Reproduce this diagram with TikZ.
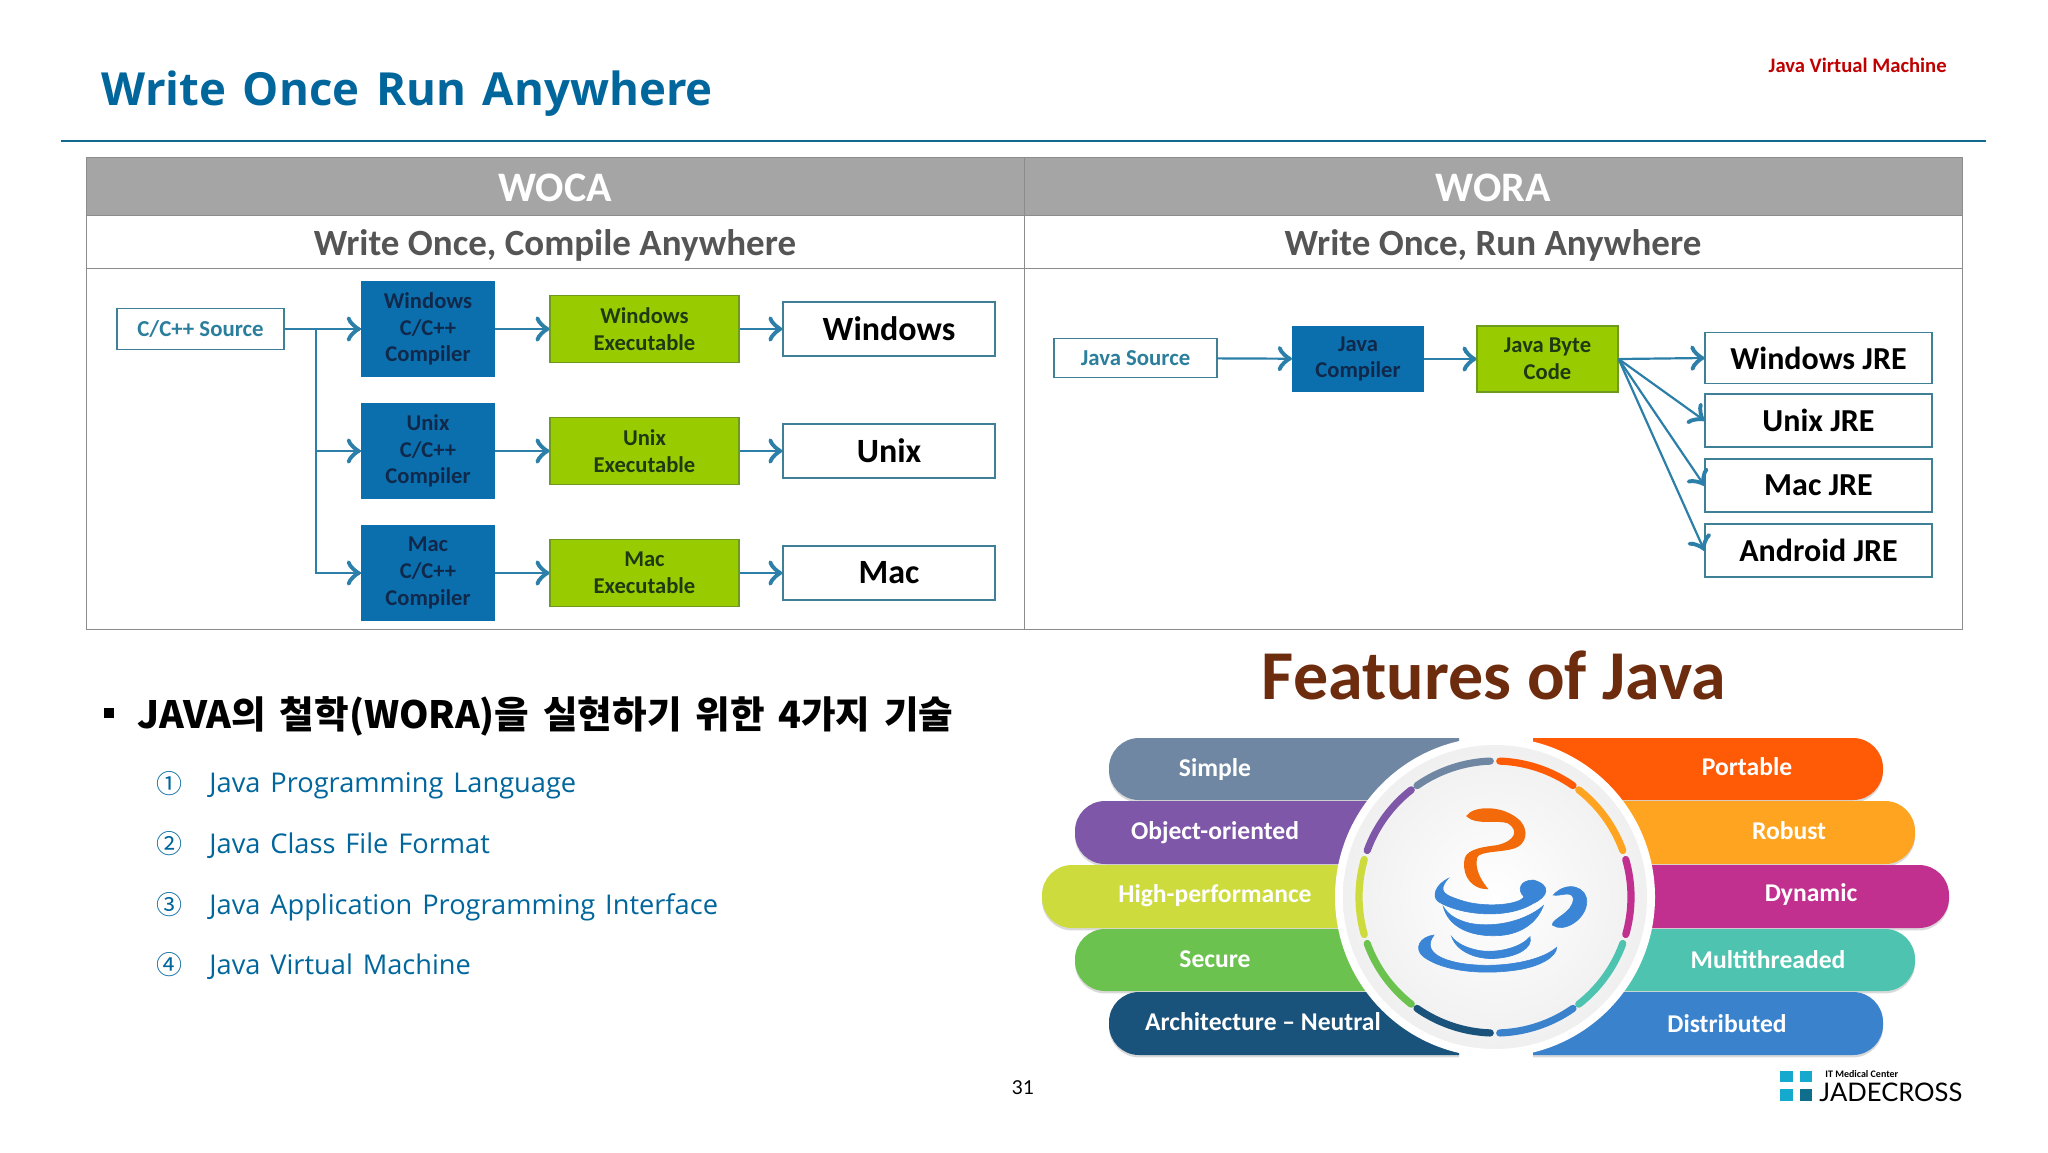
\documentclass[tikz,border=0pt]{standalone}
\usepackage{fontspec}
\setmainfont{Carlito}
\newfontfamily\titlefont[WordSpace=1.5]{Open Sans}
\newfontfamily\itemfont[WordSpace=1.4]{Open Sans}
\newfontfamily\kofont[WordSpace=1.6]{Noto Sans CJK KR}
\newfontfamily\logofont{Lato}
\usetikzlibrary{decorations.markings}
\usetikzlibrary{positioning}
\definecolor{titleblue}{HTML}{00669C}
\definecolor{rulecol}{HTML}{0F6A8E}
\definecolor{headgray}{HTML}{A5A5A5}
\definecolor{linegray}{HTML}{8C8C8C}
\definecolor{subgray}{HTML}{555555}
\definecolor{flowcol}{HTML}{2B7FA8}
\definecolor{boxedge}{HTML}{3F8096}
\definecolor{compfill}{HTML}{0B6FAE}
\definecolor{compink}{HTML}{10294A}
\definecolor{exefill}{HTML}{99CC00}
\definecolor{exeedge}{HTML}{6F9A20}
\definecolor{exeink}{HTML}{1E3A12}
\definecolor{srcink}{HTML}{2B7F9C}
\definecolor{cupblue}{HTML}{3A85D5}
\definecolor{steam}{HTML}{F26A0A}
\definecolor{javabrown}{HTML}{6E2C0E}
\definecolor{simplecol}{HTML}{6F87A3}
\definecolor{objectcol}{HTML}{7E57A8}
\definecolor{highcol}{HTML}{CDDB3D}
\definecolor{securecol}{HTML}{6CC24F}
\definecolor{archcol}{HTML}{19527A}
\definecolor{portcol}{HTML}{FF5A05}
\definecolor{robustcol}{HTML}{FFA421}
\definecolor{dyncol}{HTML}{C2308F}
\definecolor{multicol}{HTML}{4EC4B0}
\definecolor{distcol}{HTML}{3B82CC}
\definecolor{logocyan}{HTML}{16A9CE}
\definecolor{logodark}{HTML}{0E6E8C}
\tikzset{->/.style = {decoration={markings,
                                  mark=at position 1 with {\arrow[scale=2.2]{to}}},
                      postaction={decorate}}}
\tikzset{flow/.style = {draw=flowcol, line width=1.1pt}}
\tikzset{cell/.style = {draw=linegray, line width=0.5pt, inner sep=0, minimum width=469pt}}
\tikzset{headcell/.style = {cell, fill=headgray, text=white, minimum height=29pt, text height=15pt, text depth=0pt, font=\bfseries\fontsize{21}{24}\selectfont}}
\tikzset{subcell/.style = {cell, text=subgray, minimum height=26.5pt, text height=17pt, text depth=3.5pt, font=\bfseries\fontsize{18.5}{20}\selectfont}}
\tikzset{plainbox/.style = {draw=boxedge, fill=white, line width=0.7pt, inner sep=0, align=center}}
\tikzset{srcbox/.style = {plainbox, text=srcink, font=\bfseries\fontsize{11.4}{13}\selectfont}}
\tikzset{osbox/.style = {plainbox, font=\bfseries\fontsize{17}{19}\selectfont}}
\tikzset{jrebox/.style = {plainbox, font=\bfseries\fontsize{16}{18}\selectfont, minimum width=113.5pt}}
\tikzset{compbox/.style = {fill=compfill, inner sep=0, align=center, text=compink, minimum width=67pt, minimum height=48pt, font=\bfseries\fontsize{11.3}{13.3}\selectfont}}
\tikzset{exebox/.style = {draw=exeedge, fill=exefill, line width=0.6pt, inner sep=0, align=center, text=exeink, minimum width=94.5pt, minimum height=33.5pt, font=\bfseries\fontsize{11.3}{13.3}\selectfont}}
\tikzset{itemtext/.style = {anchor=west, inner sep=0, text=titleblue, font=\itemfont\fontsize{13.6}{15}\selectfont}}
\tikzset{itemnum/.style = {inner sep=0, text=titleblue, font=\kofont\fontsize{13}{15}\selectfont}}
\tikzset{bandtext/.style = {inner sep=0, text=white, font=\bfseries\fontsize{12.8}{14}\selectfont}}
\tikzset{seg/.style = {line width=3.6pt, line cap=round}}
\newcommand{\bandshape}[5]{%
  \fill [black, opacity=0.15, yshift=-1.2pt] (#2,#3) [rounded corners=15pt] -- (#1,#3) -- (#1,#4) [sharp corners] -- (#2,#4) -- cycle;
  \fill [#5] (#2,#3) [rounded corners=15pt] -- (#1,#3) -- (#1,#4) [sharp corners] -- (#2,#4) -- cycle;}
\begin{document}
\begin{tikzpicture}[x=0.5pt, y=-0.5pt]
  \useasboundingbox (0,0) rectangle (2048,1152);

  % slide head
  \node [anchor=west, inner sep=0, text=titleblue, font=\titlefont\bfseries\fontsize{22.8}{26}\selectfont] (title) at (101,94) {Write Once Run Anywhere};
  \node [anchor=east, inner sep=0, text=red!75!black, font=\bfseries\fontsize{10.3}{12}\selectfont] (chapter) at (1947,65) {Java Virtual Machine};
  \coordinate (ruleL) at (61,141);
  \coordinate (ruleR) at (1986,141);
  \draw [rulecol, line width=0.7pt] (ruleL) -- (ruleR);

  % table
  \node [cell, minimum height=180.5pt] (wocabody) at (555,448.5) {};
  \node [cell, minimum height=180.5pt] (worabody) at (1493,448.5) {};
  \node [headcell] (woca) at (555,186) {WOCA};
  \node [headcell] (wora) at (1493,186) {WORA};
  \node [subcell] (wocasub) at (555,241.5) {Write Once, Compile Anywhere};
  \node [subcell] (worasub) at (1493,241.5) {Write Once, Run Anywhere};

  % WOCA flow
  \node [srcbox, minimum width=83.5pt, minimum height=20.5pt] (cppsrc) at (200.5,329) {C/C++ Source};
  \node [compbox] (wincomp) at (428,329) {Windows\\C/C++\\Compiler};
  \node [compbox] (unixcomp) at (428,451) {Unix\\C/C++\\Compiler};
  \node [compbox] (maccomp) at (428,573) {Mac\\C/C++\\Compiler};
  \node [exebox] (winexe) at (644.5,329) {Windows\\Executable};
  \node [exebox] (unixexe) at (644.5,451) {Unix\\Executable};
  \node [exebox] (macexe) at (644.5,573) {Mac\\Executable};
  \node [osbox, minimum width=106pt, minimum height=27pt] (winos) at (889,329) {Windows};
  \node [osbox, minimum width=106pt, minimum height=27pt] (unixos) at (889,451) {Unix};
  \node [osbox, minimum width=106pt, minimum height=27pt] (macos) at (889,573) {Mac};
  \coordinate (trunk) at (316,329);

  \draw [flow, ->] (cppsrc) -- (wincomp);
  \draw [flow, ->] (trunk) -- (trunk |- maccomp) -- (maccomp);
  \draw [flow, ->] (trunk |- unixcomp) -- (unixcomp);
  \draw [flow, ->] (wincomp) -- (winexe);
  \draw [flow, ->] (unixcomp) -- (unixexe);
  \draw [flow, ->] (maccomp) -- (macexe);
  \draw [flow, ->] (winexe) -- (winos);
  \draw [flow, ->] (unixexe) -- (unixos);
  \draw [flow, ->] (macexe) -- (macos);

  % WORA flow
  \node [srcbox, minimum width=81.5pt, minimum height=19.5pt] (javasrc) at (1135.5,358) {Java Source};
  \node [compbox, minimum width=66pt, minimum height=33pt] (javacomp) at (1358,359) {Java\\Compiler};
  \node [exebox, minimum width=70.5pt, minimum height=33pt] (bytecode) at (1547.5,359) {Java Byte\\Code};
  \node [jrebox, minimum height=25.5pt] (winjre) at (1818.5,358) {Windows JRE};
  \node [jrebox, minimum height=26.5pt] (unixjre) at (1818.5,420.5) {Unix JRE};
  \node [jrebox, minimum height=26.5pt] (macjre) at (1818.5,485.5) {Mac JRE};
  \node [jrebox, minimum height=26.5pt] (androidjre) at (1818.5,550.5) {Android JRE};

  \draw [flow, ->] (javasrc) -- (javacomp);
  \draw [flow, ->] (javacomp) -- (bytecode);
  \draw [flow, ->] (bytecode.east) -- (winjre.west);
  \draw [flow, ->] (bytecode.east) -- (unixjre.west);
  \draw [flow, ->] (bytecode.east) -- (macjre.west);
  \draw [flow, ->] (bytecode.east) -- (androidjre.west);

  % list
  \fill (104,708) rectangle (114,718);
  \node [anchor=west, inner sep=0, font=\kofont\bfseries\fontsize{18.8}{21}\selectfont] (philo) at (137,716) {JAVA의 철학(WORA)을 실현하기 위한 4가지 기술};
  \node [itemnum] (num1) at (169,784) {①};
  \node [itemnum] (num2) at (169,844) {②};
  \node [itemnum] (num3) at (169,905) {③};
  \node [itemnum] (num4) at (169,965) {④};
  \node [itemtext] (item1) at (209,786) {Java Programming Language};
  \node [itemtext] (item2) at (209,846) {Java Class File Format};
  \node [itemtext] (item3) at (209,907) {Java Application Programming Interface};
  \node [itemtext] (item4) at (209,967) {Java Virtual Machine};

  % features
  \node [inner sep=0, text=javabrown, font=\bfseries\fontsize{35}{38}\selectfont] (features) at (1494,675) {Features of Java};

  \bandshape{1109}{1459}{738}{800}{simplecol}
  \bandshape{1075}{1495}{801}{864}{objectcol}
  \bandshape{1042}{1495}{865}{928}{highcol}
  \bandshape{1075}{1495}{929}{991}{securecol}
  \bandshape{1109}{1459}{992}{1055}{archcol}
  \bandshape{1883}{1533}{738}{800}{portcol}
  \bandshape{1915}{1495}{801}{864}{robustcol}
  \bandshape{1949}{1495}{865}{928}{dyncol}
  \bandshape{1915}{1495}{929}{991}{multicol}
  \bandshape{1883}{1533}{992}{1055}{distcol}

  \node [bandtext] (simple) at (1215,770) {Simple};
  \node [bandtext] (object) at (1215,833) {Object-oriented};
  \node [bandtext] (high) at (1215,896) {High-performance};
  \node [bandtext] (secure) at (1215,959) {Secure};
  \node [bandtext] (arch) at (1263,1022) {Architecture -- Neutral};
  \node [bandtext] (port) at (1747,767) {Portable};
  \node [bandtext] (robust) at (1789,831) {Robust};
  \node [bandtext] (dyn) at (1811,895) {Dynamic};
  \node [bandtext] (multi) at (1768,960) {Multithreaded};
  \node [bandtext] (dist) at (1727,1024) {Distributed};

  % disc with its ring
  \fill [white] (1495,897) circle [radius=160];
  \shade [inner color=white, outer color=black!6] (1495,897) circle [radius=152];
  \foreach \from/\to/\col in {88/55/portcol, 52/20/robustcol, 16/-16/dyncol, -20/-52/multicol,
                              -55/-88/distcol, -92/-125/archcol, -128/-160/securecol,
                              -164/-196/highcol, 160/128/objectcol, 125/92/simplecol}
    \draw [seg, \col] ({1495+136*cos(\from)},{897-136*sin(\from)})
      arc [start angle=-\from, end angle=-\to, radius=136];

  % cup
  \begin{scope}[shift={(1320,740)}, scale=1/3]
    \filldraw [steam, line width=0.8pt] (442,228) .. controls (460,200) and (550,195) .. (600,245)
      .. controls (625,275) and (615,310) .. (585,322)
      .. controls (550,335) and (480,330) .. (470,350)
      .. controls (460,385) and (480,420) .. (500,445)
      .. controls (460,445) and (430,410) .. (435,365)
      .. controls (435,335) and (470,325) .. (530,318)
      .. controls (590,305) and (600,270) .. (565,248)
      .. controls (530,235) and (470,255) .. (442,228) -- cycle;
    \filldraw [cupblue, line width=0.3pt] (385,415) .. controls (345,435) and (335,470) .. (355,485)
      .. controls (420,525) and (560,540) .. (640,490)
      .. controls (685,470) and (695,435) .. (640,420)
      .. controls (600,420) and (590,450) .. (612,470)
      .. controls (600,495) and (490,505) .. (420,480)
      .. controls (375,465) and (350,455) .. (385,415) -- cycle;
    \filldraw [cupblue, line width=0.3pt] (370,500) .. controls (385,560) and (450,590) .. (530,587)
      .. controls (600,585) and (650,550) .. (670,497)
      .. controls (620,540) and (530,565) .. (450,550)
      .. controls (410,540) and (385,525) .. (370,500) -- cycle;
    \filldraw [cupblue, line width=0.3pt] (700,465) .. controls (740,420) and (805,440) .. (800,490)
      .. controls (795,540) and (730,580) .. (697,555)
      .. controls (695,535) and (760,520) .. (760,475)
      .. controls (755,450) and (720,470) .. (700,465) -- cycle;
    \filldraw [cupblue, line width=0.3pt] (395,590) .. controls (410,635) and (470,660) .. (530,655)
      .. controls (590,650) and (640,625) .. (630,590)
      .. controls (605,620) and (540,640) .. (480,632)
      .. controls (440,625) and (410,610) .. (395,590) -- cycle;
    \filldraw [cupblue, line width=0.3pt] (342,585) .. controls (300,590) and (280,625) .. (310,650)
      .. controls (370,695) and (490,705) .. (590,690)
      .. controls (660,680) and (710,650) .. (710,622)
      .. controls (660,665) and (550,680) .. (470,675)
      .. controls (380,670) and (300,640) .. (342,585) -- cycle;
  \end{scope}

  % foot
  \node [inner sep=0, font=\logofont\fontsize{9.6}{12}\selectfont] (pagenum) at (1023,1088) {31};
  \fill [logocyan] (1780,1071) rectangle (1793,1082);
  \fill [logocyan] (1800,1071) rectangle (1812,1082);
  \fill [logocyan] (1780,1089) rectangle (1793,1101);
  \fill [logodark] (1800,1089) rectangle (1812,1101);
  \node [anchor=west, inner sep=0, font=\bfseries\fontsize{5}{6}\selectfont] (center) at (1825,1074) {IT Medical Center};
  \node [anchor=west, inner sep=0, font=\logofont\fontsize{12.8}{15}\selectfont] (jade) at (1819,1092) {JADECROSS};
\end{tikzpicture}
\end{document}
